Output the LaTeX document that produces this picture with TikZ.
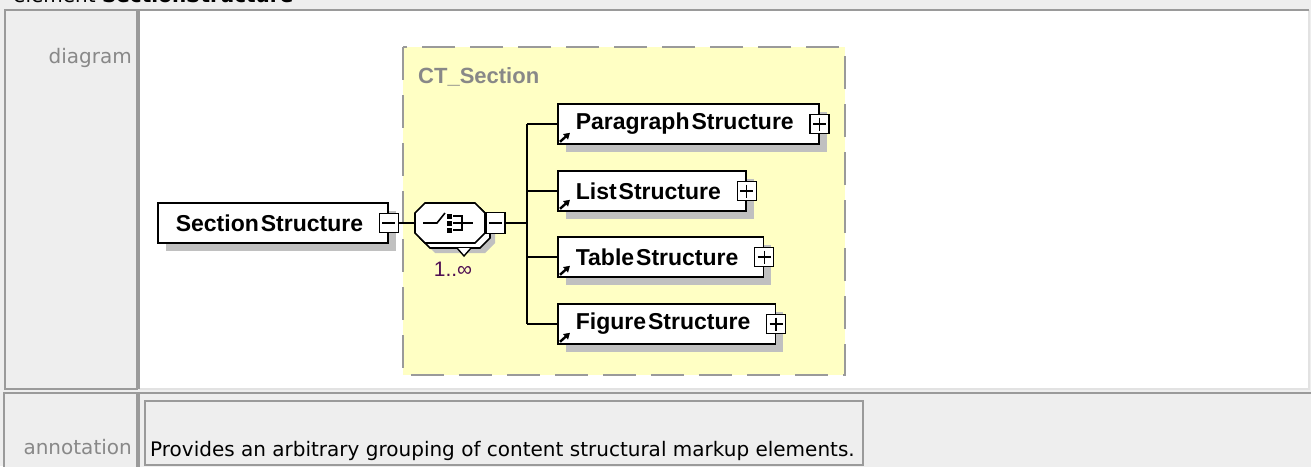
\documentclass[tikz,border=0pt]{standalone}
\usepackage{fontspec}
\setmainfont{DejaVu Sans}
\newfontfamily\elemfont{Liberation Sans}
\usepackage{tikz}
\usetikzlibrary{arrows.meta,positioning,shadows}
\definecolor{cellgray}{HTML}{EEEEEE}
\definecolor{linegray}{HTML}{9A9A9A}
\definecolor{lightline}{HTML}{E2E2E2}
\definecolor{labelgray}{HTML}{888888}
\definecolor{ctyellow}{HTML}{FFFFC4}
\definecolor{shadowgray}{HTML}{C0C0C0}
\definecolor{occurs}{HTML}{4E0E52}

\begin{document}
\begin{tikzpicture}[x=1pt,y=-1pt,
  elem/.style={draw,line width=1.6pt,fill=white,anchor=west,minimum height=40pt,inner sep=0pt,
    font=\elemfont\bfseries\fontsize{23}{26}\selectfont,
    drop shadow={shadow xshift=8pt,shadow yshift=-8pt,fill=shadowgray,opacity=1},
    execute at begin node=\hspace{18pt},execute at end node=\hspace{25pt}},
  tog/.style={draw,line width=1.3pt,fill=white,minimum size=19pt,inner sep=0pt},
  minus/.style={tog,path picture={\draw[line width=1.3pt]
    ([xshift=3pt]path picture bounding box.west) -- ([xshift=-3pt]path picture bounding box.east);}},
  plus/.style={tog,path picture={\draw[line width=1.3pt]
    ([xshift=3pt]path picture bounding box.west) -- ([xshift=-3pt]path picture bounding box.east)
    ([yshift=-3pt]path picture bounding box.north) -- ([yshift=3pt]path picture bounding box.south);}},
  conn/.style={line width=1.6pt},
  refarrow/.style={line width=2.4pt,-{Triangle[length=6pt,width=7pt]}},
  rowlabel/.style={text=labelgray,font=\fontsize{20}{24}\selectfont,inner sep=0pt},
  cellframe/.style={draw=linegray,line width=1.5pt}]
  \useasboundingbox (0,0) rectangle (1311,466);
  \fill[cellgray] (0,0) rectangle (1311,466);
  \node[anchor=base west,inner sep=0pt,font=\fontsize{20}{24}\selectfont] (title) at (13,2) {element \textbf{SectionStructure}};
  % table cells
  \draw[cellframe,fill=cellgray] (5,10) rectangle (137,389);
  \fill[white] (139,10) rectangle (1309,389);
  \draw[lightline,line width=1.5pt] (139,389) -| (1309,10);
  \draw[cellframe] (139,389) |- (1309,10);
  \draw[cellframe,fill=cellgray] (4,393) rectangle (137,470);
  \draw[cellframe,fill=cellgray] (139,393) rectangle (1315,470);
  \draw[cellframe,fill=cellgray] (145,401) rectangle (863,465);
  \node[rowlabel,anchor=base east] (diaglbl) at (132,63) {diagram};
  \node[rowlabel,anchor=base east] (annlbl) at (132,454) {annotation};
  \node[anchor=base west,inner sep=0pt,font=\fontsize{20}{24}\selectfont] (anntext) at (150,456)
    {Provides an arbitrary grouping of content structural markup elements.};
  % complex type
  \draw[draw=linegray,fill=ctyellow,line width=2pt,dash pattern=on 33pt off 15pt] (403,47) rectangle (845,375);
  \node[anchor=base west,inner sep=0pt,text=labelgray,font=\elemfont\bfseries\fontsize{22}{26}\selectfont] (ctname) at (418,83) {CT\_Section};
  \node[elem] (sec) at (157,223) {Section\kern2pt Structure};
  \node[minus] (secm) at (sec.east) {};
  % sequence
  \node[minimum width=70pt,minimum height=40pt,inner sep=0pt] (seq) at (450,223) {};
  \foreach \s/\f/\d in {10/shadowgray/none,5/white/black,0/white/black}
    \draw[line width=1.6pt,fill=\f,draw=\d,shift={(\s,\s)}] (425,203) -- (475,203) -- (485,213) -- (485,233)
      -- (475,243) -- (425,243) -- (415,233) -- (415,213) -- cycle;
  \draw[line width=1.4pt,fill=white] ([shift={(7,25)}]seq.center) -- ++(7,8) -- ++(7,-8);
  \draw[line width=1.6pt] ([xshift=-27pt]seq.center) -- ++(14,0) -- ++(8,-10);
  \foreach \dy in {-7,0,7}
    \fill ([shift={(-3,\dy-2)}]seq.center) rectangle ++(5,5);
  \draw[line width=1.6pt] ([shift={(3,-7)}]seq.center) -- ++(9,0) -- ++(0,14) -- ++(-9,0);
  \draw[line width=1.6pt] ([xshift=3pt]seq.center) -- ++(20,0);
  \node[minus,minimum height=21pt,right=0pt of seq] (seqm) {};
  \node[text=occurs,inner sep=0pt,font=\elemfont\fontsize{21}{24}\selectfont] (occ) at (453,269) {1..∞};
  \draw[conn] (secm.east) -- (seq.west);
  \coordinate (trunk) at (527,223);
  \draw[conn] (seqm.east) -- (trunk);
  % children
  \foreach \n/\y/\t in {para/124/Paragraph,list/191/List,table/257/Table,fig/324/Figure} {
    \node[elem] (\n) at (557,\y) {\t\kern2pt Structure};
    \node[plus] (\n p) at (\n.east) {};
    \draw[refarrow] ([shift={(3,-3)}]\n.south west) -- ++(10,-9);
    \draw[conn] (trunk |- \n.west) -- (\n.west);
  }
  \draw[conn] (trunk |- para.west) -- (trunk |- fig.west);
\end{tikzpicture}
\end{document}
